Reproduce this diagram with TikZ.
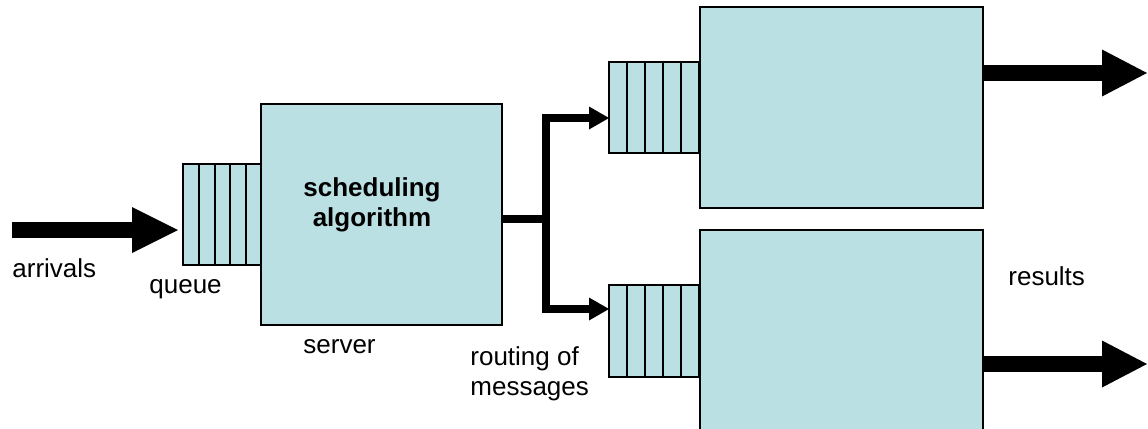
\documentclass[tikz,border=0pt]{standalone}
\usepackage{fontspec}
\setmainfont{Liberation Sans}
\usepackage{xcolor}
\usetikzlibrary{arrows.meta,calc}
\definecolor{boxfill}{RGB}{187,224,227}
\tikzset{
	unitbox/.style={draw=black, line width=1pt, fill=boxfill, inner sep=0pt, outer sep=0pt},
	fatarrow/.style={line width=8pt, -{Triangle[length=23pt, width=23pt, line width=0pt]}},
	route/.style={line width=4pt, line join=miter, -{Triangle[length=10pt, width=11.5pt, line width=0pt]}},
	lbl/.style={inner sep=0pt, anchor=base west, font=\fontsize{13pt}{15pt}\selectfont}
}

\begin{document}
\begin{tikzpicture}[x=0.5pt, y=-0.5pt]
		\useasboundingbox	(0, 0) rectangle (1148, 429);
		\clip				(0, 0) rectangle (1148, 429);

		% queues and servers
		\node[unitbox, minimum width=39.5pt, minimum height=50.5pt]		(q0)	at (222.5, 214.5) {};
		\node[unitbox, minimum width=120.5pt, minimum height=110.5pt]	(srv)	at (381.5, 214.5) {};
		\node[unitbox, minimum width=45pt, minimum height=45.5pt]		(q1)	at (654, 107.5) {};
		\node[unitbox, minimum width=141.5pt, minimum height=100.5pt]	(b1)	at (841.5, 107.5) {};
		\node[unitbox, minimum width=45pt, minimum height=46pt]			(q2)	at (654, 331) {};
		\node[unitbox, minimum width=141.5pt, minimum height=105pt]		(b2)	at (841.5, 335) {};

		\foreach \q in {q0, q1, q2} {
			\foreach \i in {1, ..., 4} {
				\draw[line width=1pt]	($(\q.north west)!\i/5!(\q.north east)$) to ($(\q.south west)!\i/5!(\q.south east)$);
			}
		}

		\node[inner sep=0pt, align=center, font=\bfseries\fontsize{13pt}{15pt}\selectfont]	(algo)	at (372, 205) {scheduling\\algorithm};

		% arrows
		\coordinate (arrin)	at (12, 230);
		\draw[fatarrow, shorten >=2.5pt]	(arrin) to (q0.west |- arrin);

		\coordinate (jn)	at (546, 219);
		\coordinate (r1)	at (609, 118);
		\coordinate (r2)	at (609, 309);
		\draw[line width=4pt]	(srv.east |- jn) to (jn);
		\draw[route]			(jn) |- (q1.west |- r1);
		\draw[route]			(jn) |- (q2.west |- r2);

		\coordinate (out1)	at (1147, 73);
		\coordinate (out2)	at (1147, 364);
		\draw[fatarrow, -{Triangle[length=22.5pt, width=23.5pt, line width=0pt]}]	(b1.east |- out1) to (out1);
		\draw[fatarrow, -{Triangle[length=22.5pt, width=23.5pt, line width=0pt]}]	(b2.east |- out2) to (out2);

		% labels
		\node[lbl]	(arrlbl)	at (12, 277)	{arrivals};
		\node[lbl]	(qlbl)		at (149, 293)	{queue};
		\node[lbl]	(srvlbl)	at (303, 353)	{server};
		\node[lbl]	(rout)		at (470, 365)	{routing of};
		\node[lbl]	(msg)		at (470, 395)	{messages};
		\node[lbl]	(reslbl)	at (1008, 285)	{results};
	\end{tikzpicture}
\end{document}
